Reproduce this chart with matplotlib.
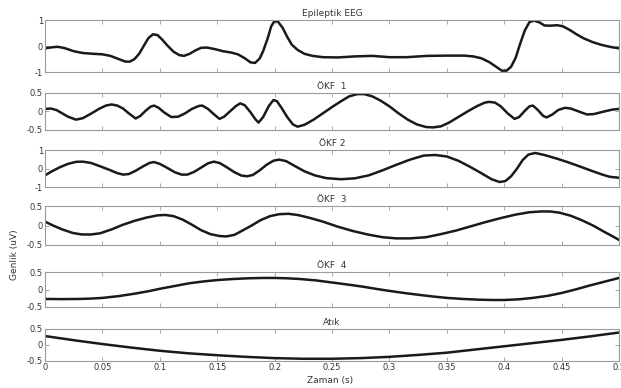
import numpy as np
import matplotlib
matplotlib.use("Agg")
import matplotlib.pyplot as plt

plt.rcParams['font.family'] = ['DejaVu Sans']
plt.rcParams['axes.unicode_minus'] = False

# values: time (s) and amplitude (uV)
eeg_t = [0, 0.006, 0.011, 0.017, 0.025, 0.033, 0.042, 0.05, 0.057, 0.064,
         0.07, 0.074, 0.078, 0.082, 0.086, 0.09, 0.094, 0.098, 0.102, 0.107,
         0.112, 0.117, 0.121, 0.126, 0.131, 0.136, 0.141, 0.148, 0.155, 0.162,
         0.168, 0.174, 0.179, 0.183, 0.187, 0.19, 0.194, 0.197, 0.2, 0.203,
         0.207, 0.211, 0.215, 0.22, 0.226, 0.233, 0.242, 0.255, 0.27, 0.285,
         0.3, 0.315, 0.333, 0.35, 0.365, 0.373, 0.38, 0.387, 0.393, 0.398,
         0.402, 0.406, 0.41, 0.414, 0.418, 0.422, 0.426, 0.431, 0.435, 0.44,
         0.446, 0.451, 0.457, 0.463, 0.469, 0.477, 0.485, 0.493, 0.5]
eeg_v = [-0.09, -0.05, -0.03, -0.08, -0.2, -0.27, -0.3, -0.32, -0.38, -0.5,
         -0.6, -0.6, -0.5, -0.3, 0.0, 0.3, 0.45, 0.42, 0.25, 0.0,
         -0.22, -0.35, -0.38, -0.3, -0.17, -0.07, -0.06, -0.12, -0.2, -0.25,
         -0.32, -0.47, -0.63, -0.65, -0.48, -0.2, 0.3, 0.75, 0.97, 0.93,
         0.7, 0.35, 0.05, -0.15, -0.3, -0.38, -0.43, -0.44, -0.4, -0.38,
         -0.43, -0.43, -0.38, -0.37, -0.37, -0.4, -0.47, -0.62, -0.8, -0.95,
         -0.95, -0.8, -0.45, 0.1, 0.6, 0.92, 0.98, 0.9, 0.79, 0.78,
         0.8, 0.76, 0.62, 0.45, 0.3, 0.15, 0.04, -0.04, -0.09]

okf1_t = [0, 0.005, 0.01, 0.015, 0.02, 0.027, 0.033, 0.04, 0.047, 0.053,
          0.058, 0.063, 0.068, 0.073, 0.079, 0.083, 0.088, 0.092, 0.095, 0.099,
          0.104, 0.11, 0.116, 0.122, 0.128, 0.134, 0.137, 0.142, 0.147, 0.152,
          0.156, 0.161, 0.166, 0.17, 0.174, 0.179, 0.183, 0.186, 0.19, 0.195,
          0.199, 0.202, 0.206, 0.211, 0.216, 0.22, 0.226, 0.234, 0.242, 0.25,
          0.258, 0.265, 0.272, 0.278, 0.285, 0.292, 0.3, 0.308, 0.316, 0.324,
          0.332, 0.338, 0.345, 0.352, 0.36, 0.368, 0.376, 0.383, 0.387, 0.392,
          0.397, 0.403, 0.409, 0.413, 0.418, 0.422, 0.425, 0.429, 0.434, 0.437,
          0.442, 0.447, 0.453, 0.458, 0.465, 0.472, 0.478, 0.487, 0.494, 0.5]
okf1_v = [0.07, 0.08, 0.04, -0.05, -0.14, -0.22, -0.18, -0.06, 0.07, 0.16,
          0.19, 0.16, 0.08, -0.05, -0.19, -0.12, 0.03, 0.13, 0.16, 0.1,
          -0.03, -0.15, -0.14, -0.05, 0.07, 0.15, 0.16, 0.07, -0.07, -0.2,
          -0.14, 0.0, 0.14, 0.22, 0.17, -0.02, -0.2, -0.3, -0.15, 0.15,
          0.31, 0.28, 0.1, -0.15, -0.35, -0.41, -0.36, -0.22, -0.05, 0.12,
          0.28, 0.41, 0.47, 0.47, 0.41, 0.3, 0.14, -0.05, -0.22, -0.35,
          -0.42, -0.43, -0.4, -0.3, -0.15, 0.0, 0.14, 0.24, 0.26, 0.24,
          0.14, -0.05, -0.2, -0.15, 0.02, 0.14, 0.16, 0.05, -0.12, -0.16,
          -0.08, 0.04, 0.1, 0.08, 0.0, -0.08, -0.07, 0.0, 0.05, 0.07]

okf2_t = [0, 0.006, 0.013, 0.02, 0.027, 0.033, 0.04, 0.048, 0.056, 0.063,
          0.068, 0.073, 0.079, 0.085, 0.091, 0.095, 0.1, 0.106, 0.113, 0.119,
          0.124, 0.13, 0.136, 0.142, 0.147, 0.152, 0.158, 0.165, 0.171, 0.176,
          0.181, 0.187, 0.193, 0.199, 0.204, 0.21, 0.218, 0.226, 0.235, 0.245,
          0.258, 0.27, 0.282, 0.294, 0.306, 0.318, 0.33, 0.34, 0.35, 0.36,
          0.37, 0.38, 0.389, 0.396, 0.401, 0.406, 0.411, 0.416, 0.421, 0.427,
          0.435, 0.445, 0.455, 0.465, 0.475, 0.485, 0.492, 0.5]
okf2_v = [-0.37, -0.15, 0.07, 0.25, 0.36, 0.37, 0.3, 0.12, -0.07, -0.25,
          -0.33, -0.3, -0.12, 0.1, 0.3, 0.35, 0.25, 0.05, -0.2, -0.33,
          -0.33, -0.18, 0.05, 0.28, 0.37, 0.3, 0.08, -0.2, -0.38, -0.42,
          -0.35, -0.1, 0.2, 0.42, 0.48, 0.4, 0.12, -0.15, -0.37, -0.52,
          -0.58, -0.53, -0.37, -0.1, 0.2, 0.48, 0.7, 0.73, 0.65, 0.42,
          0.1, -0.25, -0.58, -0.73, -0.68, -0.42, -0.02, 0.45, 0.75, 0.84,
          0.73, 0.55, 0.35, 0.13, -0.1, -0.32, -0.45, -0.5]

okf3_t = [0, 0.007, 0.015, 0.024, 0.032, 0.04, 0.048, 0.058, 0.068, 0.078,
          0.088, 0.098, 0.105, 0.112, 0.12, 0.128, 0.136, 0.144, 0.152, 0.158,
          0.165, 0.172, 0.18, 0.188, 0.196, 0.204, 0.212, 0.22, 0.23, 0.242,
          0.255, 0.268, 0.281, 0.294, 0.306, 0.318, 0.332, 0.345, 0.358, 0.371,
          0.384, 0.397, 0.41, 0.422, 0.432, 0.44, 0.448, 0.458, 0.468, 0.478,
          0.487, 0.494, 0.5]
okf3_v = [0.1, 0.0, -0.1, -0.19, -0.23, -0.23, -0.2, -0.1, 0.02, 0.12,
          0.2, 0.26, 0.27, 0.24, 0.15, 0.02, -0.12, -0.22, -0.27, -0.28,
          -0.24, -0.13, 0.0, 0.14, 0.24, 0.29, 0.3, 0.27, 0.2, 0.1,
          -0.03, -0.14, -0.23, -0.3, -0.33, -0.33, -0.3, -0.22, -0.13, -0.02,
          0.09, 0.19, 0.28, 0.34, 0.36, 0.36, 0.33, 0.25, 0.13, -0.01,
          -0.16, -0.27, -0.37]

okf4_t = [0, 0.015, 0.03, 0.04, 0.05, 0.064, 0.078, 0.09, 0.1, 0.113,
          0.126, 0.138, 0.15, 0.164, 0.177, 0.19, 0.2, 0.211, 0.222, 0.236,
          0.25, 0.264, 0.277, 0.29, 0.3, 0.313, 0.325, 0.338, 0.35, 0.364,
          0.377, 0.39, 0.4, 0.413, 0.425, 0.438, 0.45, 0.462, 0.474, 0.487,
          0.5]
okf4_v = [-0.27, -0.275, -0.27, -0.26, -0.24, -0.19, -0.12, -0.05, 0.02, 0.1,
          0.18, 0.23, 0.27, 0.3, 0.32, 0.33, 0.33, 0.32, 0.3, 0.26,
          0.2, 0.14, 0.08, 0.01, -0.04, -0.1, -0.15, -0.2, -0.24, -0.27,
          -0.29, -0.3, -0.3, -0.28, -0.24, -0.18, -0.1, 0.0, 0.11, 0.22,
          0.33]

atik_t = [0, 0.025, 0.05, 0.075, 0.1, 0.125, 0.15, 0.175, 0.2, 0.225, 0.25,
          0.275, 0.3, 0.325, 0.35, 0.375, 0.4, 0.425, 0.45, 0.475, 0.5]
atik_v = [0.28, 0.15, 0.03, -0.08, -0.18, -0.26, -0.32, -0.37, -0.41, -0.43,
          -0.43, -0.41, -0.37, -0.31, -0.24, -0.14, -0.04, 0.06, 0.16, 0.27,
          0.39]

titles = ['Epileptik EEG', 'ÖKF  1', 'ÖKF 2', 'ÖKF  3', 'ÖKF  4', 'Atık']
series = [(eeg_t, eeg_v), (okf1_t, okf1_v), (okf2_t, okf2_v),
          (okf3_t, okf3_v), (okf4_t, okf4_v), (atik_t, atik_v)]
ylims = [1, 0.5, 1, 0.5, 0.5, 0.5]
xticks = np.arange(0, 0.5001, 0.05)
xticklabels = ['0', '0.05', '0.1', '0.15', '0.2', '0.25', '0.3', '0.35',
               '0.4', '0.45', '0.5']

# pixel boxes (top, bottom) of each panel
W, H = 621, 388
boxes = [(20, 72), (93, 130), (150, 187), (206, 245), (272, 307), (329, 361)]
left, right = 45, 619

fig = plt.figure(figsize=(W / 100, H / 100), dpi=100)
grey = '#9a9a9a'
txt = '#333333'

for i, (top, bot) in enumerate(boxes):
    ax = fig.add_axes([left / W, 1 - bot / H, (right - left) / W, (bot - top) / H])
    t, v = series[i]
    ax.plot(t, v, color='#1a1a1a', lw=1.8, solid_capstyle='round',
            solid_joinstyle='round')
    lim = ylims[i]
    ax.set_xlim(0, 0.5)
    ax.set_ylim(-lim, lim)
    ax.set_yticks([-lim, 0, lim])
    ax.set_yticklabels(['%g' % x for x in [-lim, 0, lim]])
    ax.set_xticks(xticks)
    if i == len(boxes) - 1:
        ax.set_xticklabels(xticklabels)
    else:
        ax.set_xticklabels([])
    ax.tick_params(direction='in', length=3, width=0.6, color=grey,
                   top=True, right=True, labelsize=6, labelcolor=txt, pad=1.5)
    for sp in ax.spines.values():
        sp.set_color(grey)
        sp.set_linewidth(0.8)
    ax.set_title(titles[i], fontsize=6.5, color=txt, pad=3)

fig.text(330 / W, 1 - 381 / H, 'Zaman (s)', fontsize=6.5, color=txt,
         ha='center', va='center')
fig.text(15 / W, 1 - 255 / H, 'Genlik (uV)', fontsize=6.5, color=txt,
         ha='center', va='center', rotation=90)

fig.savefig('out.png', dpi=100)
